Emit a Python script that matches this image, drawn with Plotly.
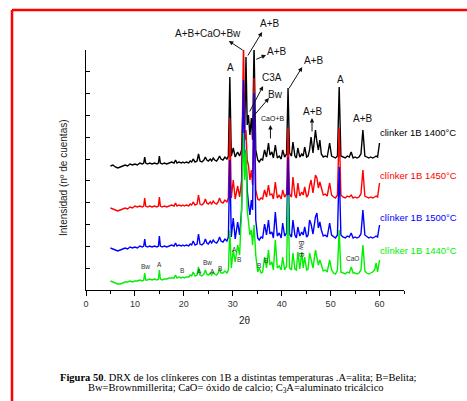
import plotly.graph_objects as go

# ---- data (2theta grid shared by all patterns) ----
two_theta = [
    5.0, 5.5, 6.0, 6.5, 7.0, 7.5, 8.0, 8.5, 9.0, 9.5, 10.0, 10.5, 11.0, 11.5,
    11.8, 12.0, 12.2, 12.6, 13.0, 13.5, 14.0, 14.5, 14.8, 15.0, 15.2, 15.6, 16.0, 16.5, 17.0, 17.5, 18.0, 18.3, 18.6, 19.0,
    19.5, 19.8, 20.1, 20.5, 21.0, 21.3, 21.6, 21.9, 22.3, 22.7, 23.0, 23.3, 23.7, 24.1, 24.4, 24.7, 25.0, 25.4, 25.7, 26.0,
    26.3, 26.7, 27.0, 27.3, 27.6, 28.0, 28.4, 28.8, 29.1, 29.4, 29.7, 30.1, 30.5, 31.0, 31.4, 31.8, 32.2, 32.45, 32.7, 32.95,
    33.2, 33.5, 33.8, 34.05, 34.35, 34.7, 35.1, 35.4, 35.8, 36.1, 36.5, 36.9, 37.3, 37.6, 38.0, 38.3, 38.7, 39.1, 39.5, 39.9,
    40.2, 40.6, 41.0, 41.3, 41.6, 42.0, 42.3, 42.7, 43.0, 43.3, 43.7, 44.1, 44.4, 44.7, 45.1, 45.4, 45.7, 46.0, 46.4, 46.9,
    47.2, 47.5, 47.8, 48.1, 48.5, 48.9, 49.3, 49.8, 50.2, 50.6, 51.0, 51.4, 51.75, 52.1, 52.5, 53.0, 53.4, 53.8, 54.2, 54.6,
    55.0, 55.4, 55.8, 56.2, 56.6, 57.0, 57.4, 57.8, 58.2, 58.6, 59.0, 59.3, 59.6, 60.0,
]

int_1400 = [
    124, 125, 123, 122, 123, 124, 125, 124, 126, 125, 126, 125, 127, 126,
    127, 133, 127, 126, 127, 126, 127, 126, 127, 134, 127, 126, 127, 126, 127, 128, 127, 130, 127, 128,
    127, 128, 127, 128, 127, 129, 128, 131, 128, 129, 136, 129, 128, 130, 133, 130, 129, 131, 129, 132,
    130, 129, 131, 134, 131, 130, 133, 131, 134, 213, 134, 142, 133, 138, 134, 140, 200, 160, 233, 165,
    175, 155, 172, 150, 245, 140, 130, 128, 131, 130, 140, 133, 147, 135, 138, 132, 145, 132, 134, 131,
    140, 133, 136, 202, 137, 134, 148, 134, 132, 142, 133, 136, 134, 143, 133, 134, 140, 153, 137, 160,
    148, 140, 150, 136, 133, 134, 133, 147, 134, 133, 132, 134, 203, 134, 133, 132, 134, 133, 138, 132,
    133, 132, 133, 136, 160, 134, 133, 132, 133, 132, 133, 134, 133, 147,
]

int_1450 = [
    82, 81, 80, 79, 80, 81, 82, 81, 83, 82, 84, 83, 84, 83,
    84, 92, 84, 83, 84, 83, 84, 83, 84, 93, 84, 83, 84, 83, 84, 85, 84, 87, 84, 85,
    84, 85, 84, 85, 84, 86, 85, 88, 85, 86, 95, 86, 85, 87, 91, 87, 86, 88, 86, 89,
    87, 86, 88, 92, 88, 87, 90, 88, 92, 172, 92, 110, 91, 104, 93, 110, 250, 150, 160, 130,
    125, 110, 120, 105, 212, 100, 91, 90, 92, 91, 100, 93, 105, 95, 96, 91, 108, 92, 95, 91,
    100, 93, 96, 162, 96, 93, 113, 95, 92, 107, 94, 98, 95, 103, 93, 95, 104, 110, 97, 115,
    112, 102, 108, 103, 95, 96, 94, 107, 95, 93, 92, 95, 162, 95, 93, 92, 94, 93, 95, 92,
    93, 92, 93, 96, 120, 94, 93, 92, 93, 92, 93, 94, 93, 107,
]

int_1500 = [
    42, 41, 40, 39, 40, 41, 42, 41, 43, 42, 43, 42, 44, 43,
    44, 51, 44, 43, 44, 43, 44, 43, 44, 54, 44, 43, 44, 43, 44, 45, 44, 47, 44, 45,
    44, 45, 44, 45, 44, 46, 45, 49, 45, 46, 56, 46, 45, 47, 51, 47, 46, 49, 47, 50,
    48, 47, 49, 53, 49, 48, 51, 49, 53, 130, 53, 72, 51, 68, 55, 80, 210, 130, 140, 100,
    87, 75, 90, 80, 197, 70, 52, 50, 53, 52, 66, 55, 70, 56, 58, 52, 78, 54, 57, 52,
    67, 54, 57, 133, 56, 53, 70, 55, 52, 63, 54, 58, 55, 63, 53, 55, 70, 66, 56, 73,
    77, 62, 68, 60, 54, 55, 53, 67, 55, 53, 52, 55, 123, 55, 53, 52, 54, 53, 57, 52,
    53, 52, 53, 56, 80, 55, 53, 52, 53, 52, 53, 54, 53, 65,
]

int_1440 = [
    9, 8, 7, 6, 6, 7, 8, 8, 9, 8, 9, 9, 10, 9,
    10, 17, 10, 10, 11, 10, 11, 10, 11, 20, 11, 10, 11, 11, 12, 12, 12, 15, 12, 13,
    12, 13, 12, 13, 13, 15, 14, 18, 14, 15, 23, 15, 14, 16, 20, 16, 15, 17, 15, 18,
    16, 15, 17, 21, 17, 17, 19, 17, 20, 60, 22, 40, 28, 45, 35, 80, 157, 110, 140, 80,
    70, 55, 60, 45, 65, 35, 18, 22, 17, 18, 33, 22, 40, 25, 28, 20, 50, 22, 24, 20,
    33, 20, 24, 95, 22, 20, 37, 21, 20, 38, 21, 38, 22, 33, 20, 21, 37, 30, 22, 40,
    33, 25, 30, 24, 19, 20, 18, 30, 20, 17, 16, 20, 60, 18, 17, 16, 18, 17, 23, 17,
    17, 16, 17, 20, 45, 19, 17, 16, 17, 18, 20, 27, 18, 30,
]

series_names = ["clinker 1B 1400°C", "clínker 1B 1450°C", "clínker 1B 1500°C", "clínker 1B 1440°C"]
series_values = [int_1400, int_1450, int_1500, int_1440]
series_colors = ["#000000", "#ff0000", "#0000ff", "#00f000"]
label_y = [158, 115, 73, 40]

X_MAX = 65.0
Y_MAX = 240.0

# peak labels: (text, x, y, size)
peak_labels = [
    ("A", 29.6, 222, 10), ("A+B+CaO+Bw", 24.9, 257, 10), ("A+B", 37.6, 266, 10),
    ("A+B", 39.0, 238, 10), ("C3A", 38.0, 213, 10), ("Bw", 38.8, 196, 10),
    ("CaO+B", 38.2, 172, 7), ("A+B", 46.6, 229, 10), ("A", 52.1, 211, 10),
    ("A+B", 46.4, 179, 10), ("A+B", 56.6, 172, 10),
]
# arrows: (head_x, head_y, tail_x, tail_y)
arrows = [
    (29.2, 249, 32.3, 239), (36.0, 258, 32.9, 233), (36.8, 235, 34.5, 230),
    (36.2, 204, 33.3, 177), (37.4, 192, 33.9, 172), (37.7, 165, 37.7, 150),
    (44.2, 223, 41.3, 200), (46.2, 172, 46.2, 157),
]
phase_labels = [
    ("Bw", 12.1, 24, 0), ("A", 15.1, 26, 0), ("B", 19.6, 20, 0), ("A", 23.3, 19, 0),
    ("Bw", 24.9, 28, 0), ("A", 25.8, 19, 0), ("B", 27.4, 22, 0), ("A", 30.3, 41, 0),
    ("B", 31.3, 31, 0), ("B", 35.4, 25, 0), ("B", 36.8, 30, 0), ("Bw", 44.2, 45, 90),
    ("B", 44.2, 35, 90), ("CaO", 54.4, 32, 0),
]

FONT = "Arial, Liberation Sans, sans-serif"
SERIF = "Liberation Serif, Times New Roman, serif"

fig = go.Figure()
for name, vals, col in zip(series_names, series_values, series_colors):
    fig.add_trace(go.Scatter(x=two_theta, y=vals, mode="lines", name=name,
                             line=dict(color=col, width=1.4), showlegend=False))

ann = []
for name, col, ly in zip(series_names, series_colors, label_y):
    ann.append(dict(x=59.7, y=ly, xref="x", yref="y", text=name, showarrow=False,
                    xanchor="left", yanchor="middle", font=dict(family=FONT, size=9.5, color=col)))
for t, x, y, s in peak_labels:
    # paper reference so labels above the plot area are still drawn
    ann.append(dict(x=x / X_MAX, y=y / Y_MAX, xref="paper", yref="paper", text=t, showarrow=False,
                    xanchor="center", yanchor="middle", font=dict(family=FONT, size=s, color="#111")))
for hx, hy, tx, ty in arrows:
    ann.append(dict(x=hx, y=hy, xref="x", yref="y", ax=tx, ay=ty, axref="x", ayref="y",
                    text="", showarrow=True, arrowhead=2, arrowsize=0.9, arrowwidth=1,
                    arrowcolor="#111", standoff=0, startstandoff=0))
for t, x, y, ang in phase_labels:
    ann.append(dict(x=x, y=y, xref="x", yref="y", text=t, showarrow=False, textangle=ang,
                    xanchor="center", yanchor="middle",
                    font=dict(family=FONT, size=6.5, color="#333")))

ann.append(dict(x=-0.069, y=0.467, xref="paper", yref="paper", text="Intensidad (nº de cuentas)",
                textangle=-90, showarrow=False, xanchor="center", yanchor="middle",
                font=dict(family=FONT, size=10, color="#222")))
ann.append(dict(x=0.5, y=-0.125, xref="paper", yref="paper", text="2θ",
                showarrow=False, xanchor="center", yanchor="middle",
                font=dict(family=FONT, size=10, color="#222")))
ann.append(dict(x=0.478, y=-0.3625, xref="paper", yref="paper",
                text="<b>Figura 50</b>. DRX de los clínkeres con 1B a distintas temperaturas .A=alita; B=Belita;",
                showarrow=False, xanchor="center", yanchor="middle",
                font=dict(family=SERIF, size=10.5, color="#000")))
ann.append(dict(x=0.472, y=-0.41, xref="paper", yref="paper",
                text="Bw=Brownmillerita; CaO= óxido de calcio; C<sub>3</sub>A=aluminato tricálcico",
                showarrow=False, xanchor="center", yanchor="middle",
                font=dict(family=SERIF, size=10.5, color="#000")))

shapes = [
    dict(type="line", xref="paper", yref="paper", x0=-0.2327, x1=-0.2327, y0=1.1667, y1=-0.5,
         line=dict(color="#ff0000", width=2.5)),
    dict(type="line", xref="paper", yref="paper", x0=-0.2327, x1=1.25, y0=1.1667, y1=1.1667,
         line=dict(color="#ff0000", width=2.5)),
]

fig.update_layout(
    width=467, height=401, margin=dict(l=86, r=63, t=50, b=111),
    paper_bgcolor="white", plot_bgcolor="white",
    annotations=ann, shapes=shapes,
    font=dict(family=FONT),
)
fig.update_xaxes(range=[0, X_MAX], showgrid=False, zeroline=False, showline=True, linecolor="#000",
                 linewidth=1, ticks="outside", ticklen=5, tickcolor="#000", dtick=10, tick0=0,
                 tickfont=dict(family=FONT, size=9, color="#333"),
                 minor=dict(dtick=5, ticks="outside", ticklen=3, tickcolor="#000"))
fig.update_yaxes(range=[0, Y_MAX], showgrid=False, zeroline=False, showline=True, linecolor="#000",
                 linewidth=1, ticks="inside", ticklen=4, tickcolor="#000", dtick=Y_MAX / 11, tick0=0,
                 showticklabels=False)

fig.write_html("out.html")
